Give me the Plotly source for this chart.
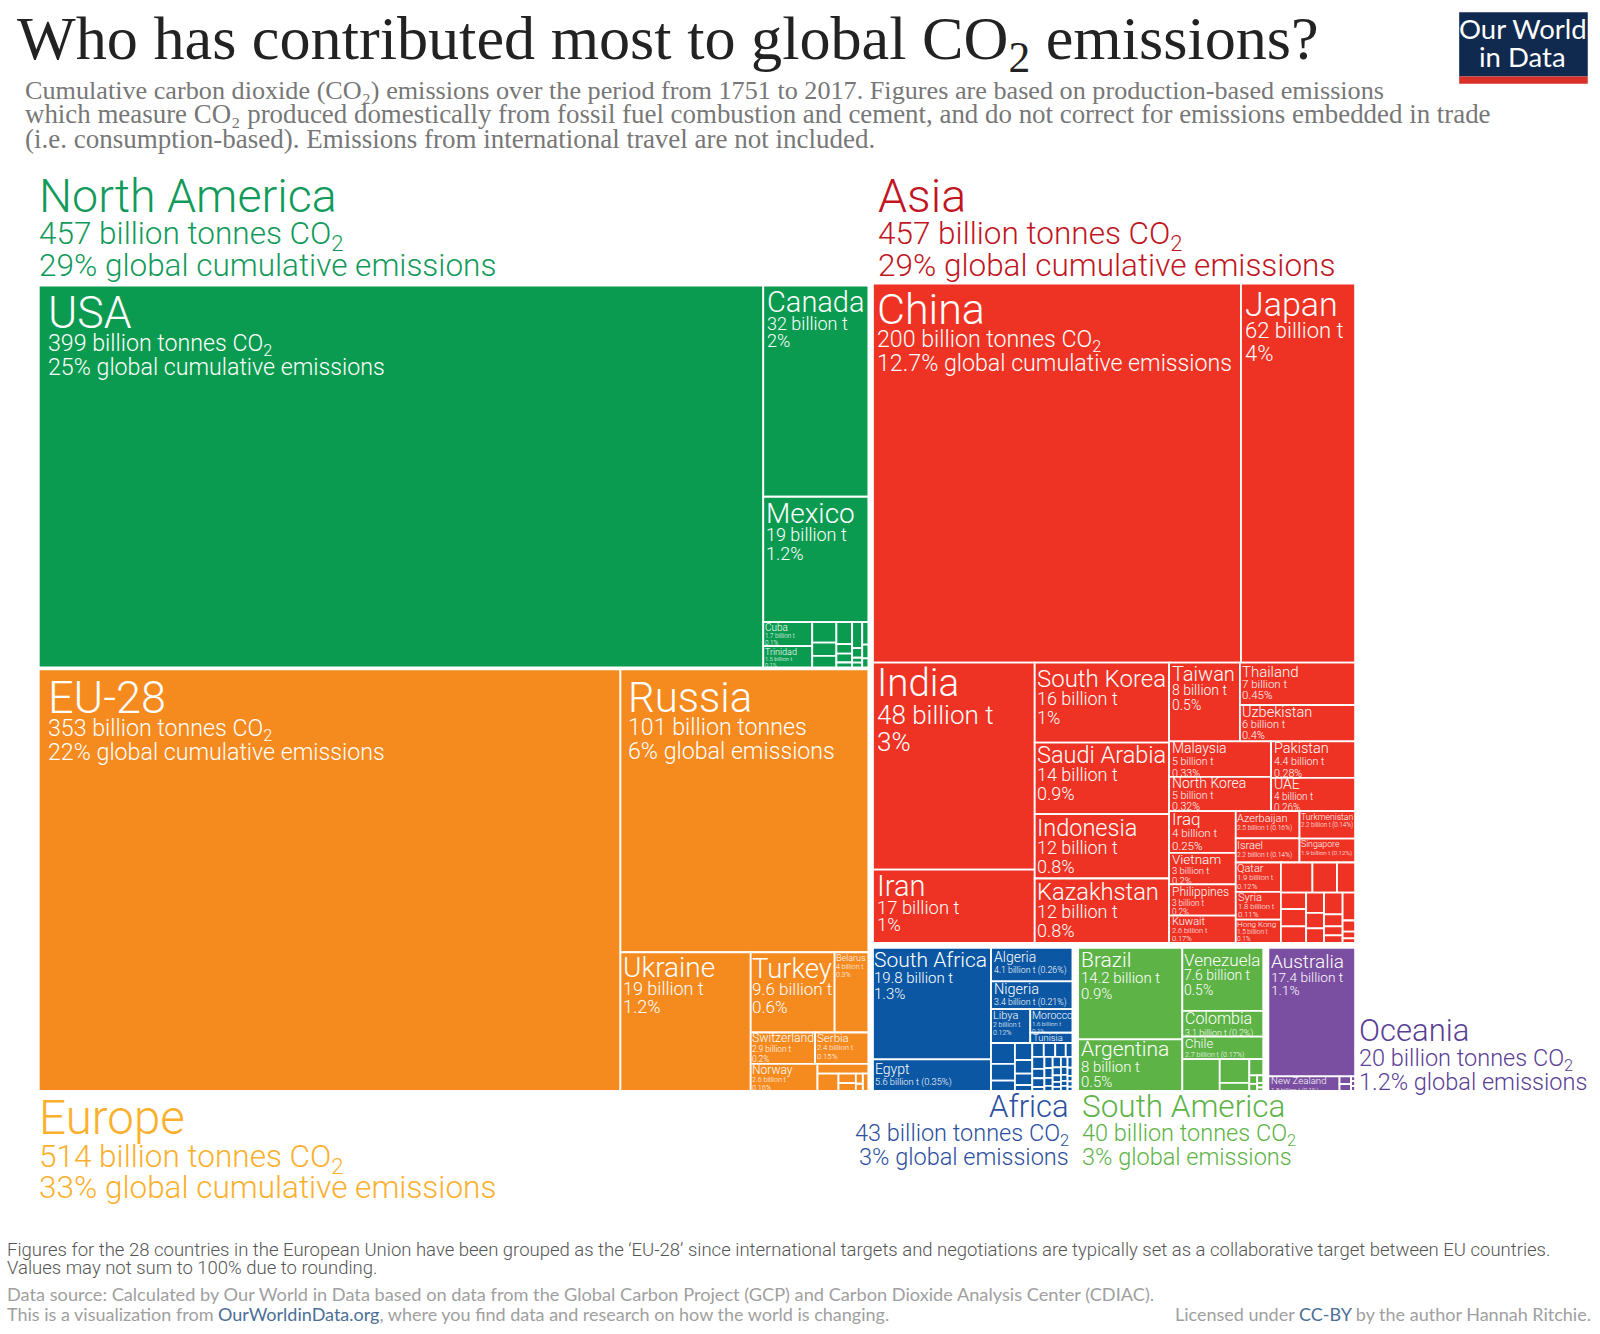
import plotly.graph_objects as go

# ---------- DATA ----------
na_ids = ["North America","USA","naR","Canada","Mexico","naS","naC1","Cuba","Trinidad","naC2","n1","n2","n3","naC3","n4","n5","n6","n7","naC4","n8","n9","n10","n11","naC5","n12","n13","n14"]
na_parents = ["","North America","North America","naR","naR","naR","naS","naC1","naC1","naS","naC2","naC2","naC2","naS","naC3","naC3","naC3","naC3","naS","naC4","naC4","naC4","naC4","naS","naC5","naC5","naC5"]
na_values = [0,399,0,32,19,0,0,1.7,1.5,0,.72,.46,.40,0,.5,.22,.2,.11,0,.38,.14,.07,.07,0,.2,.12,.08]

eu_ids = ["Europe","EU-28","euR","Russia","euL","Ukraine","euM","euTB","Turkey","Belarus","euSS","Switzerland","Serbia","euNR","Norway","euRest","e1","euLow","e2","e3c","e3","e4","e4c","e5","e6","e7"]
eu_parents = ["","Europe","Europe","euR","euR","euL","euL","euM","euTB","euTB","euM","euSS","euSS","euM","euNR","euNR","euRest","euRest","euLow","euLow","e3c","e3c","euLow","e4c","e4c","euLow"]
eu_values = [0,353,0,101,0,26,0,0,9.7,3.9,0,2.9,2.4,0,2.6,0,.72,0,.52,0,.24,.19,0,.10,.07,.14]

asia_ids = ["Asia","asT","China","Japan","asB","asI","India","Iran","asK","South Korea","Saudi Arabia","Indonesia","Kazakhstan","asRt","r1","Taiwan","r1c","Thailand","Uzbekistan","r2","r2a","Malaysia","North Korea","r2b","Pakistan","UAE","r3","r3a","Iraq","Vietnam","Philippines","Kuwait","r3b","bT","bTa","Azerbaijan","Israel","bTb","Turkmenistan","Singapore","bL","bLq","Qatar","Syria","Hong Kong","bLr","q1","a1","a2","a3","q2","qc1","a4","a5","a6","qc2","a7","a8","a9","qc3","a10","a11","a12","a13","qc4","a14","a15","a16","a17"]
asia_parents = ["","Asia","asT","asT","Asia","asB","asI","asI","asB","asK","asK","asK","asK","asB","asRt","r1","r1","r1c","r1c","asRt","r2","r2a","r2a","r2","r2b","r2b","asRt","r3","r3a","r3a","r3a","r3a","r3","r3b","bT","bTa","bTa","bT","bTb","bTb","r3b","bL","bLq","bLq","bLq","bL","bLr","q1","q1","q1","bLr","q2","qc1","qc1","qc1","q2","qc2","qc2","qc2","q2","qc3","qc3","qc3","qc3","q2","qc4","qc4","qc4","qc4"]
asia_values = [0,0,200,62,0,0,48,17,0,15.4,13.8,12.4,12.4,0,0,8,0,7,6,0,0,5.2,5,0,4.4,4,0,0,4,3,3,2.6,0,0,0,2.5,2.2,0,2.2,1.9,0,0,1.9,1.8,1.5,0,0,1.36,1.06,.78,0,0,.6,.62,.6,0,.52,.4,.37,0,.58,.32,.24,.2,0,.5,.2,.12,.08]

af_ids = ["Africa","afA","South Africa","Egypt","afB","Algeria","Nigeria","afL","Libya","afM","Morocco","Tunisia","afR","fa","f1","f2","f3","fb","f4","f5","f6","f7","fc","fcT","f8","f9","f10","f11","fcL","g1","f12","f13","f14","f15","g2","f16","f17","f18","f19","g3","f20","f21","f22","f23","f24","g4","f25","f26","f27","f28","f29","g5","f30","f31","f32","f33","f34"]
af_parents = ["","Africa","afA","afA","Africa","afB","afB","afB","afL","afL","afM","afM","afB","afR","fa","fa","fa","afR","fb","fb","fb","fb","afR","fc","fcT","fcT","fcT","fcT","fc","fcL","g1","g1","g1","g1","fcL","g2","g2","g2","g2","fcL","g3","g3","g3","g3","g3","fcL","g4","g4","g4","g4","g4","fcL","g5","g5","g5","g5","g5"]
af_values = [0,0,19.8,5.6,0,4.1,3.4,0,2,0,1.5,.65,0,0,.75,.6,.37,0,.45,.35,.3,.15,0,0,.24,.24,.22,.14,0,0,.22,.17,.16,.07,0,.14,.12,.1,.06,0,.13,.1,.08,.06,.05,0,.1,.08,.06,.05,.05,0,.08,.06,.04,.04,.03]

sa_ids = ["South America","saA","Brazil","Argentina","saB","Venezuela","Colombia","Chile","saR","s1","saC","s2","s3","saD","s4","saE","saF","s5","s6","saG","s7","s8","s9"]
sa_parents = ["","South America","saA","saA","South America","saB","saB","saB","saB","saR","saR","saC","saC","saR","saD","saD","saE","saF","saF","saE","saG","saG","saG"]
sa_values = [0,0,14.2,8,0,7.6,3.1,2.7,0,1.77,0,1.05,.35,0,.34,0,0,.1,.08,0,.07,.04,.03]

oc_ids = ["Oceania","Australia","ocL","New Zealand","oc1","o1","o2","oc2","o3","o4","o5"]
oc_parents = ["","Oceania","Oceania","ocL","ocL","oc1","oc1","ocL","oc2","oc2","oc2"]
oc_values = [0,17.4,0,1.6,0,.14,.12,0,.03,.03,.03]

notes = {
 "USA":"399 billion tonnes CO<sub>2</sub><br>25% global cumulative emissions",
 "Canada":"32 billion t<br>2%","Mexico":"19 billion t<br>1.2%","Cuba":"1.7 billion t<br>0.1%","Trinidad":"1.5 billion t<br>0.1%",
 "EU-28":"353 billion tonnes CO<sub>2</sub><br>22% global cumulative emissions",
 "Russia":"101 billion tonnes<br>6% global emissions","Ukraine":"19 billion t<br>1.2%","Turkey":"9.6 billion t<br>0.6%",
 "Belarus":"4 billion t<br>0.3%","Switzerland":"2.9 billion t<br>0.2%","Serbia":"2.4 billion t<br>0.15%","Norway":"2.6 billion t<br>0.16%",
 "China":"200 billion tonnes CO<sub>2</sub><br>12.7% global cumulative emissions","Japan":"62 billion t<br>4%",
 "India":"48 billion t<br>3%","Iran":"17 billion t<br>1%","South Korea":"16 billion t<br>1%","Saudi Arabia":"14 billion t<br>0.9%",
 "Indonesia":"12 billion t<br>0.8%","Kazakhstan":"12 billion t<br>0.8%","Taiwan":"8 billion t<br>0.5%","Thailand":"7 billion t<br>0.45%",
 "Uzbekistan":"6 billion t<br>0.4%","Malaysia":"5 billion t<br>0.33%","North Korea":"5 billion t<br>0.32%","Pakistan":"4.4 billion t<br>0.28%",
 "UAE":"4 billion t<br>0.26%","Iraq":"4 billion t<br>0.25%","Vietnam":"3 billion t<br>0.2%","Philippines":"3 billion t<br>0.2%",
 "Kuwait":"2.6 billion t<br>0.17%","Azerbaijan":"2.5 billion t (0.16%)","Israel":"2.2 billion t (0.14%)","Turkmenistan":"2.2 billion t (0.14%)",
 "Singapore":"1.9 billion t (0.12%)","Qatar":"1.9 billion t<br>0.12%","Syria":"1.8 billion t<br>0.11%","Hong Kong":"1.5 billion t<br>0.1%",
 "South Africa":"19.8 billion t<br>1.3%","Egypt":"5.6 billion t (0.35%)","Algeria":"4.1 billion t (0.26%)","Nigeria":"3.4 billion t (0.21%)",
 "Libya":"2 billion t<br>0.12%","Morocco":"1.6 billion t<br>0.1%","Tunisia":"",
 "Brazil":"14.2 billion t<br>0.9%","Argentina":"8 billion t<br>0.5%","Venezuela":"7.6 billion t<br>0.5%","Colombia":"3.1 billion t (0.2%)","Chile":"2.7 billion t (0.17%)",
 "Australia":"17.4 billion t<br>1.1%","New Zealand":"1.8 billion t (0.1%)",
}

# ---------- STYLE ----------
W, H = 1600, 1334
K = 1600 / 1568
SANS = "Roboto"
# name size, detail size, line step base, x inset, y nudge
sizes = {
 "USA":(44.5,23.2,18,8.5,1.5),"China":(43,23.2,18,3.5,1),"EU-28":(45,23.2,18,8.5,1.5),"Russia":(42,23.2,18,6.5,3.5),
 "Canada":(29,18,13.6,2.5,-0.5),"Mexico":(28,18,14.1,1.5,0),"Japan":(34,22,17.3,2.5,0),"India":(38.5,26,21.2,3.5,-2.5),"Iran":(29,18.4,13.6,3.5,-0.5),
 "South Korea":(24,18,14.1,1.5,2.5),"Saudi Arabia":(23.5,18,14.1,1.5,-1.5),"Indonesia":(23.5,18,14.1,1.5,0),"Kazakhstan":(23.7,18,14.1,1.5,-1),
 "Taiwan":(20,14,11,1.5,-1),"Thailand":(15,11.5,8.4,1.5,0),"Uzbekistan":(14.5,11,8.4,1.5,-2),"Malaysia":(14,10.6,9.4,1.5,-2),"North Korea":(14,10.6,8.4,1.5,-2),
 "Pakistan":(14.5,10.7,9.4,1.5,-2),"UAE":(14,10,8.4,1.5,-2),"Iraq":(17,11.5,9.5,1.5,-3),"Vietnam":(13.5,9.5,7.5,1.5,-3),"Philippines":(12,8.2,7.4,1.5,0),"Kuwait":(11,7.5,6,1.5,-1),
 "Azerbaijan":(11,6.7,6.3,.5,0),"Israel":(11,6.7,6.3,.5,0),"Turkmenistan":(8.7,6.3,5.5,.5,0),"Singapore":(8.7,6.2,6,.5,0),"Qatar":(11,7.7,6.5,.5,-1),"Syria":(11,7.7,6.3,1.5,-2),"Hong Kong":(8,6.5,5.2,.5,0),
 "Ukraine":(28,18,14,1.5,-1),"Turkey":(27.5,17,13.3,.5,0),"Belarus":(9,7,6.3,.5,0),"Switzerland":(12.2,8.3,7.5,.5,-2),"Serbia":(11.5,7.7,6.5,.5,-2),"Norway":(12,7.2,6.3,.5,-1),
 "Cuba":(10,6.3,5.2,.5,-1),"Trinidad":(9,5.8,4.8,.5,0),
 "South Africa":(21,15,12.2,.5,0),"Egypt":(14,9.3,8.6,1.5,1),"Algeria":(14,8.8,8.6,1.5,.5),"Nigeria":(14.5,8.8,8.3,1.5,-1),"Libya":(11,7,6.3,.5,-1),"Morocco":(10.5,6.2,5.5,.5,-1),"Tunisia":(9.5,6,6,1.5,-1),
 "Brazil":(21,15,12.2,1.5,0),"Argentina":(21,15,12,1.5,-3),"Venezuela":(17,14,11,.5,2),"Colombia":(16,8.9,9.4,1.5,-2),"Chile":(13,7.2,6.6,1.5,-1),
 "Australia":(19,13.7,10.5,1.5,1.5),"New Zealand":(9.7,6.2,6.3,1.5,-2.5),
}

def partition(ids, parents, values, box, rows_first):
    kids = {}
    for n, p in zip(ids, parents):
        kids.setdefault(p, []).append(n)
    own = dict(zip(ids, values))
    def total(n):
        return own[n] + sum(total(c) for c in kids.get(n, []))
    rects = {}
    def walk(n, x0, y0, x1, y1, rows):
        rects[n] = (x0, y0, x1, y1)
        cs = kids.get(n, [])
        tot = sum(total(c) for c in cs)
        pos = y0 if rows else x0
        for c in cs:
            span = total(c) / tot * ((y1 - y0) if rows else (x1 - x0))
            if rows:
                walk(c, x0, pos, x1, pos + span, not rows)
            else:
                walk(c, pos, y0, pos + span, y1, not rows)
            pos += span
    walk(ids[0], *box, rows_first)
    return rects

anns = []
def cell_label(node, rect):
    a, b, step, dx, dy = sizes[node]
    lines = [f'<span style="font-size:{a}px">{node}</span>']
    lines += [f'<span style="font-size:{b}px">{s}</span>' for s in notes.get(node, "").split("<br>") if s]
    anns.append(dict(xref="paper", yref="paper", x=(rect[0] + dx) / W,
                     y=1 - (rect[1] - 0.03 * a + dy) / H, text="<br>".join(lines),
                     showarrow=False, xanchor="left", yanchor="top", align="left", borderpad=0,
                     font=dict(size=step, color="white", family=SANS, weight=300)))

def region(ids, parents, values, color, box, packing):
    x0, y0, x1, y1 = [v * K for v in box]
    kids = set(parents)
    rects = partition(ids, parents, values, (x0, y0, x1, y1), packing == "dice-slice")
    for n in ids:
        if n in sizes:
            cell_label(n, rects[n])
    return go.Treemap(
        ids=ids, labels=ids, parents=parents, values=values,
        branchvalues="remainder", sort=False, textinfo="none",
        marker=dict(colors=[color] * len(ids), depthfade=False,
                    pad=dict(t=0, l=0, r=0, b=0),
                    line=dict(color="white", width=[0 if n in kids else 1.8 for n in ids])),
        tiling=dict(packing=packing, pad=0),
        pathbar=dict(visible=False),
        hoverinfo="skip",
        domain=dict(x=[x0 / W, x1 / W], y=[1 - y1 / H, 1 - y0 / H]),
    )

fig = go.Figure([
    region(na_ids, na_parents, na_values, "#0A9B50", (38, 280, 851, 654), "slice-dice"),
    region(eu_ids, eu_parents, eu_values, "#F58A1F", (38, 656, 851, 1069), "slice-dice"),
    region(asia_ids, asia_parents, asia_values, "#EE3224", (855.5, 278, 1328, 924), "dice-slice"),
    region(af_ids, af_parents, af_values, "#0B57A4", (855.5, 929, 1051, 1069), "slice-dice"),
    region(sa_ids, sa_parents, sa_values, "#5DB346", (1056.5, 929, 1238, 1069), "slice-dice"),
    region(oc_ids, oc_parents, oc_values, "#7A4EA0", (1243, 929, 1328, 1069), "dice-slice"),
])

def t(x, y, text, size, color, font=SANS, anchor="left", weight=300):
    anns.append(dict(xref="paper", yref="paper", x=x * K / W, y=1 - y * K / H, text=text,
                     showarrow=False, xanchor=anchor, yanchor="middle", align=anchor, borderpad=0,
                     font=dict(size=size, color=color, family=font, weight=weight)))

CO2 = "CO<sub>2</sub>"
t(16, 42, f"Who has contributed most to global {CO2} emissions?", 62.2, "#222222", "Liberation Serif", weight=400)
for y, s, fs in [(89, "Cumulative carbon dioxide (CO₂) emissions over the period from 1751 to 2017. Figures are based on production-based emissions", 26.2),
                 (112, "which measure CO₂ produced domestically from fossil fuel combustion and cement, and do not correct for emissions embedded in trade", 26.9),
                 (136, "(i.e. consumption-based). Emissions from international travel are not included.", 27)]:
    t(24, y, s, fs, "#777777", "Liberation Serif", weight=400)

t(37, 192, "North America", 46.6, "#129A5A")
t(37, 231, f"457 billion tonnes {CO2}", 31.5, "#129A5A")
t(37, 260, "29% global cumulative emissions", 31.5, "#129A5A")
t(859, 192, "Asia", 46.6, "#C1161F")
t(859, 231, f"457 billion tonnes {CO2}", 31.5, "#C1161F")
t(859, 260, "29% global cumulative emissions", 31.5, "#C1161F")
t(37, 1096, "Europe", 47.5, "#FBB02D")
t(37, 1135, f"514 billion tonnes {CO2}", 31.5, "#FBB02D")
t(37, 1164, "33% global cumulative emissions", 31.5, "#FBB02D")
t(1049, 1084, "Africa", 31, "#2B4F9E", anchor="right")
t(1049, 1112, f"43 billion tonnes {CO2}", 23.5, "#2B4F9E", anchor="right")
t(1049, 1134, "3% global emissions", 23.5, "#2B4F9E", anchor="right")
t(1059, 1084, "South America", 31.5, "#5DB346")
t(1059, 1112, f"40 billion tonnes {CO2}", 23.5, "#5DB346")
t(1059, 1134, "3% global emissions", 23.5, "#5DB346")
t(1331, 1010, "Oceania", 31, "#5A3E94")
t(1331, 1038, f"20 billion tonnes {CO2}", 23.5, "#5A3E94")
t(1331, 1060, "1.2% global emissions", 23.5, "#5A3E94")

t(6, 1225, "Figures for the 28 countries in the European Union have been grouped as the ‘EU-28’ since international targets and negotiations are typically set as a collaborative target between EU countries.", 18.5, "#555555", SANS)
t(6, 1243, "Values may not sum to 100% due to rounding.", 18.5, "#555555", SANS)
t(6, 1268, "Data source: Calculated by Our World in Data based on data from the Global Carbon Project (GCP) and Carbon Dioxide Analysis Center (CDIAC).", 18.2, "#A0A0A0", "Lato", weight=400)
t(6, 1288, 'This is a visualization from <span style="color:#4A6F96">OurWorldinData.org</span>, where you find data and research on how the world is changing.', 18, "#A0A0A0", "Lato", weight=400)
t(1560, 1288, 'Licensed under <span style="color:#4A6F96">CC-BY</span> by the author Hannah Ritchie.', 18, "#A0A0A0", "Lato", anchor="right", weight=400)
t(1492.5, 28, "Our World", 27.5, "white", "Lato", anchor="center", weight=400)
t(1492.5, 55, "in Data", 27.5, "white", "Lato", anchor="center", weight=400)

shapes = [
    dict(type="rect", xref="paper", yref="paper", x0=1430 * K / W, x1=1556 * K / W,
         y0=1 - 75 * K / H, y1=1 - 12 * K / H, fillcolor="#10294F", line_width=0),
    dict(type="rect", xref="paper", yref="paper", x0=1430 * K / W, x1=1556 * K / W,
         y0=1 - 82 * K / H, y1=1 - 75 * K / H, fillcolor="#D9302A", line_width=0),
]

fig.update_layout(width=W, height=H, margin=dict(l=0, r=0, t=0, b=0), paper_bgcolor="white",
                  annotations=anns, shapes=shapes, showlegend=False)
fig.write_html("out.html", config={"displayModeBar": False},
               post_script="document.body.style.margin='0';")
